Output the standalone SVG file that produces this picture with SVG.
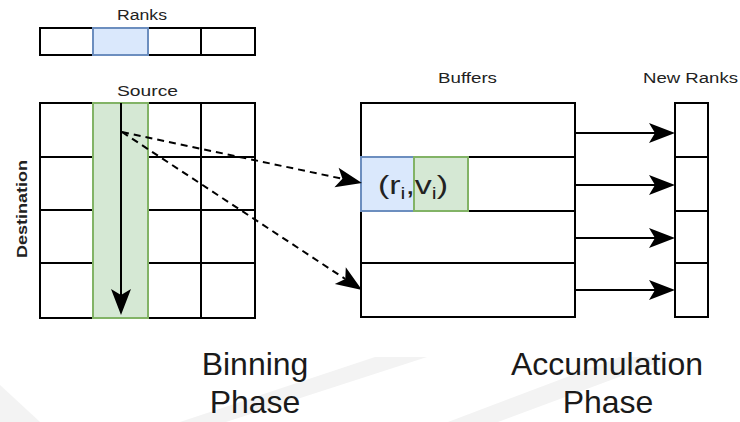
<svg xmlns="http://www.w3.org/2000/svg" width="740" height="422" viewBox="0 0 740 422">
<style>
.cell{fill:#ffffff;stroke:#000000;stroke-width:2}
.blue{fill:#dae8fc;stroke:#6c8ebf;stroke-width:2}
.green{fill:#d5e8d4;stroke:#82b366;stroke-width:2}
.ln{stroke:#000000;stroke-width:2;fill:none}
.dash{stroke:#000000;stroke-width:2;fill:none;stroke-dasharray:7 5}
.lbl{font-family:"Liberation Sans",Arial,sans-serif;font-size:14px;fill:#222222}
.big{font-family:"Liberation Sans",Arial,sans-serif;font-size:32px;fill:#1a1a1a;text-anchor:middle}
.wm{fill:#f3f3f3}
</style>
<defs>
<marker id="ah" markerUnits="userSpaceOnUse" viewBox="-8 -12 30 24" refX="0" refY="0" markerWidth="30" markerHeight="24" orient="auto" overflow="visible">
<path d="M-6,-10 L20,0 L-6,10 L0,0 Z" fill="#000000" stroke="none"/>
</marker>
</defs>
<rect width="740" height="422" fill="#ffffff"/>
<g id="watermark">
<polygon class="wm" points="0,385 40,422 0,422"/>
<polygon class="wm" points="180,422 226,422 427,357 375,357"/>
<polygon class="wm" points="448,422 498,422 673,357 620,357"/>
</g>
<g id="ranks">
<rect class="cell" x="40" y="28" width="53" height="27"/>
<rect class="cell" x="148" y="28" width="53" height="27"/>
<rect class="cell" x="201" y="28" width="54" height="27"/>
<rect class="blue" x="93" y="28" width="55" height="27"/>
<text class="lbl" x="117" y="20" textLength="50" lengthAdjust="spacingAndGlyphs">Ranks</text>
</g>
<g id="matrix">
<rect class="cell" x="40" y="103" width="215" height="215"/>
<line class="ln" x1="40" y1="157" x2="255" y2="157"/>
<line class="ln" x1="40" y1="210" x2="255" y2="210"/>
<line class="ln" x1="40" y1="263" x2="255" y2="263"/>
<line class="ln" x1="201" y1="103" x2="201" y2="318"/>
<rect class="green" x="93" y="103" width="55" height="215"/>
<text class="lbl" x="117" y="96" textLength="61" lengthAdjust="spacingAndGlyphs">Source</text>
<text class="lbl" font-weight="bold" transform="translate(27,209) rotate(-90)" x="-49" y="0" textLength="98" lengthAdjust="spacingAndGlyphs">Destination</text>
</g>
<g id="buffers">
<rect class="cell" x="361" y="103" width="214" height="214"/>
<line class="ln" x1="361" y1="157" x2="575" y2="157"/>
<line class="ln" x1="361" y1="211" x2="575" y2="211"/>
<line class="ln" x1="361" y1="263" x2="575" y2="263"/>
<rect class="blue" x="361" y="157" width="53" height="54"/>
<rect class="green" x="414" y="157" width="54" height="54"/>
<text font-family="Liberation Sans, Arial, sans-serif" font-size="25" fill="#222222" x="378" y="194" textLength="70" lengthAdjust="spacingAndGlyphs">(r<tspan font-size="16" dy="5">i</tspan><tspan dy="-5">,v</tspan><tspan font-size="16" dy="5">i</tspan><tspan dy="-5">)</tspan></text>
<text class="lbl" x="438" y="83" textLength="59" lengthAdjust="spacingAndGlyphs">Buffers</text>
</g>
<g id="new-ranks">
<rect class="cell" x="675" y="103" width="33" height="214"/>
<line class="ln" x1="675" y1="157" x2="708" y2="157"/>
<line class="ln" x1="675" y1="211" x2="708" y2="211"/>
<line class="ln" x1="675" y1="263" x2="708" y2="263"/>
<text class="lbl" x="643" y="83" textLength="95" lengthAdjust="spacingAndGlyphs">New Ranks</text>
</g>
<g id="connectors">
<line class="ln" x1="121" y1="103" x2="121" y2="295" marker-end="url(#ah)"/>
<line class="dash" x1="122" y1="132" x2="342.4" y2="178.8" marker-end="url(#ah)"/>
<line class="dash" x1="122" y1="132" x2="345.3" y2="279.0" marker-end="url(#ah)"/>
<line class="ln" x1="575" y1="133" x2="655" y2="133" marker-end="url(#ah)"/>
<line class="ln" x1="575" y1="185" x2="655" y2="185" marker-end="url(#ah)"/>
<line class="ln" x1="575" y1="238" x2="655" y2="238" marker-end="url(#ah)"/>
<line class="ln" x1="575" y1="290" x2="655" y2="290" marker-end="url(#ah)"/>
</g>
<g id="phase-labels">
<text class="big" x="255" y="375">Binning</text>
<text class="big" x="255" y="413">Phase</text>
<text class="big" x="607" y="375">Accumulation</text>
<text class="big" x="608" y="413">Phase</text>
</g>
</svg>
